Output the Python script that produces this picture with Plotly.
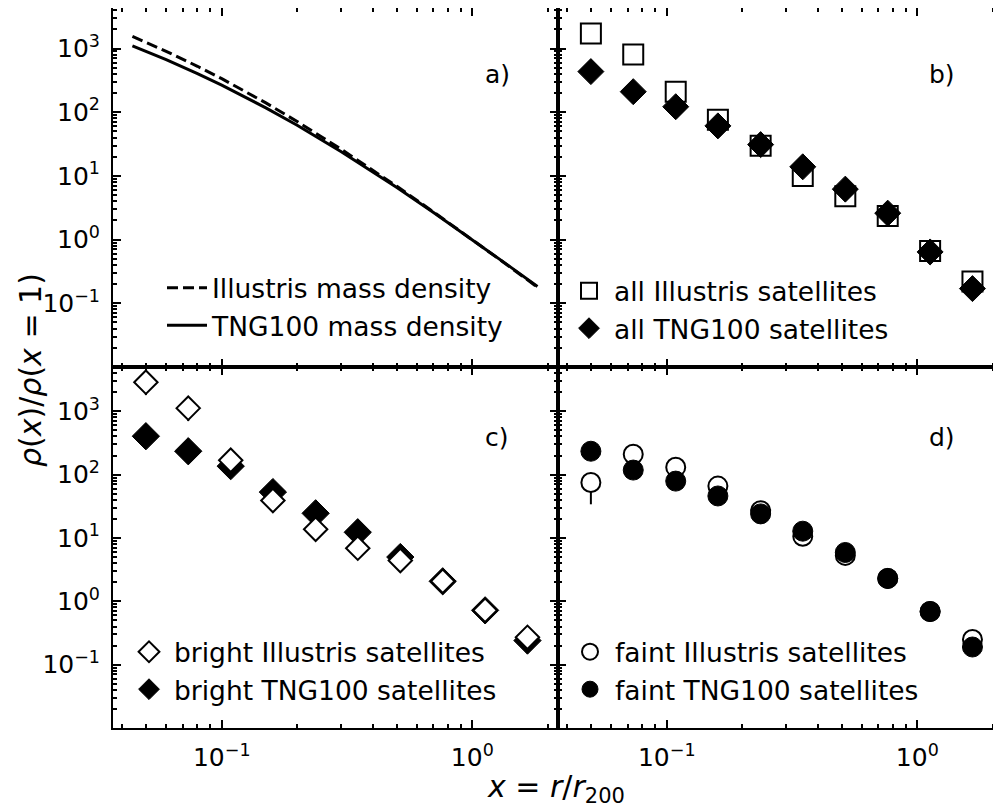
import plotly.graph_objects as go

# ---------------- data ----------------
# panel a: mass density profiles
x_prof = [0.044, 0.06, 0.08, 0.1, 0.15, 0.2, 0.3, 0.4, 0.5, 0.7, 1.0, 1.4, 1.82]
ill_mass = [1550, 904, 526, 336, 140, 71.5, 26.2, 12.4, 6.85, 2.72, 1.0, 0.382, 0.179]
tng_mass = [1103, 668, 404, 266, 117, 62.3, 24.0, 11.7, 6.56, 2.67, 1.0, 0.387, 0.183]

# radial bins of satellites
x_bins = [0.0498, 0.0735, 0.1086, 0.160, 0.237, 0.349, 0.516, 0.762, 1.125, 1.66]

# panel b: all satellites
all_ill = [1720, 805, 210, 76, 29.7, 10.0, 4.8, 2.35, 0.66, 0.22]
all_tng = [434, 210, 122, 61, 31, 13.9, 6.2, 2.6, 0.64, 0.17]

# panel c: bright satellites
bright_ill = [2880, 1120, 169, 39, 13.7, 6.9, 4.4, 2.07, 0.72, 0.27]
bright_ill_err = [1080, 420, 0, 0, 0, 0, 0, 0, 0, 0]
bright_tng = [404, 234, 136, 53, 24.5, 12.3, 5.0, 2.07, 0.72, 0.24]

# panel d: faint satellites
faint_ill = [75, 210, 131, 66, 27, 10.6, 5.3, 2.3, 0.69, 0.25]
faint_ill_err_hi = [30, 0, 0, 0, 0, 0, 0, 0, 0, 0]
faint_ill_err_lo = [41, 0, 0, 0, 0, 0, 0, 0, 0, 0]
faint_tng = [234, 118, 79, 46, 24, 12.8, 5.9, 2.3, 0.69, 0.19]

y_ticks = [0.1, 1, 10, 100, 1000]
y_ticktext = ["10<sup>\u22121</sup>", "10<sup>0</sup>", "10<sup>1</sup>", "10<sup>2</sup>", "10<sup>3</sup>"]
x_ticks = [0.1, 1]
x_ticktext = ["10<sup>\u22121</sup>", "10<sup>0</sup>"]

# ---------------- figure ----------------
FONT = "DejaVu Sans"
W, H = 1001, 810
PAGE_OFF = 8                     # default body margin of the html page
ML, MR, MT, MB = 105, 6, 0, 90   # plot area -> page x 113..1003, y 8..728
PLOT_W = W - ML - MR
PLOT_H = H - MT - MB
BOT_PX = H - MB + PAGE_OFF
MID_PX = 367


def px2x(px):
    return (px - ML - PAGE_OFF) / PLOT_W


def px2y(py):
    return (BOT_PX - py) / PLOT_H


SPLIT = px2y(MID_PX)

fig = go.Figure()
BLACK = "black"

# panel a
fig.add_trace(go.Scatter(x=x_prof, y=ill_mass, mode="lines", name="Illustris mass density",
                         line=dict(color=BLACK, width=3, dash="11px,5px"),
                         xaxis="x", yaxis="y", legend="legend", legendgroup="a1"))
fig.add_trace(go.Scatter(x=x_prof, y=tng_mass, mode="lines", name="TNG100 mass density",
                         line=dict(color=BLACK, width=3),
                         xaxis="x", yaxis="y", legend="legend", legendgroup="a2"))

# panel b
fig.add_trace(go.Scatter(x=x_bins, y=all_ill, mode="markers", name="all Illustris satellites",
                         marker=dict(symbol="square", size=20, color="white",
                                     line=dict(color=BLACK, width=2)),
                         xaxis="x2", yaxis="y2", legend="legend2", legendgroup="b1", legendrank=1))
fig.add_trace(go.Scatter(x=x_bins, y=all_tng, mode="markers", name="all TNG100 satellites",
                         marker=dict(symbol="diamond", size=20, color=BLACK,
                                     line=dict(color=BLACK, width=1)),
                         xaxis="x2", yaxis="y2", legend="legend2", legendgroup="b2", legendrank=2))

# panel c
fig.add_trace(go.Scatter(x=x_bins, y=bright_tng, mode="markers", name="bright TNG100 satellites",
                         marker=dict(symbol="diamond", size=21, color=BLACK,
                                     line=dict(color=BLACK, width=1)),
                         xaxis="x3", yaxis="y3", legend="legend3", legendgroup="c2", legendrank=2))
fig.add_trace(go.Scatter(x=x_bins, y=bright_ill, mode="markers", name="bright Illustris satellites",
                         error_y=dict(type="data", array=bright_ill_err, color=BLACK, thickness=2, width=0),
                         marker=dict(symbol="diamond", size=18, color="white",
                                     line=dict(color=BLACK, width=2)),
                         xaxis="x3", yaxis="y3", legend="legend3", legendgroup="c1", legendrank=1))

# panel d
fig.add_trace(go.Scatter(x=x_bins, y=faint_ill, mode="markers", name="faint Illustris satellites",
                         error_y=dict(type="data", array=faint_ill_err_hi, arrayminus=faint_ill_err_lo,
                                      color=BLACK, thickness=2, width=0),
                         marker=dict(symbol="circle", size=19, color="white",
                                     line=dict(color=BLACK, width=2)),
                         xaxis="x4", yaxis="y4", legend="legend4", legendgroup="d1", legendrank=1))
fig.add_trace(go.Scatter(x=x_bins, y=faint_tng, mode="markers", name="faint TNG100 satellites",
                         marker=dict(symbol="circle", size=20, color=BLACK,
                                     line=dict(color=BLACK, width=1)),
                         xaxis="x4", yaxis="y4", legend="legend4", legendgroup="d2", legendrank=2))

XR = [-1.434, 0.342]
YR_BOT = [-2.0, 3.699]
YR_TOP = [-2.0, 3.636]   # top of the figure is clipped a little in the reference

minor_x = [m * 10 ** e for e in (-2, -1, 0) for m in range(2, 10)]
minor_y = [m * 10 ** e for e in (-2, -1, 0, 1, 2, 3) for m in range(2, 10)]


def xaxis(domain, anchor, labels):
    return dict(type="log", range=XR, domain=domain, anchor=anchor, automargin=False,
                showline=True, linecolor=BLACK, linewidth=2, mirror="allticks",
                ticks="inside", ticklen=8, tickwidth=2, tickcolor=BLACK,
                tickmode="array", tickvals=x_ticks, ticktext=x_ticktext,
                showticklabels=labels, showgrid=False, zeroline=False,
                ticklabelstandoff=6,
                tickfont=dict(family=FONT, size=25, color=BLACK),
                minor=dict(ticks="inside", ticklen=4, tickwidth=1.5, tickcolor=BLACK,
                           tickmode="array", tickvals=minor_x, showgrid=False))


def yaxis(domain, anchor, labels, rng):
    return dict(type="log", range=rng, domain=domain, anchor=anchor, automargin=False,
                showline=True, linecolor=BLACK, linewidth=2, mirror="allticks",
                ticks="inside", ticklen=8, tickwidth=2, tickcolor=BLACK,
                tickmode="array", tickvals=y_ticks, ticktext=y_ticktext,
                showticklabels=labels, showgrid=False, zeroline=False,
                ticklabelstandoff=6,
                tickfont=dict(family=FONT, size=25, color=BLACK),
                minor=dict(ticks="inside", ticklen=4, tickwidth=1.5, tickcolor=BLACK,
                           tickmode="array", tickvals=minor_y, showgrid=False))


def leg(xpx, ypx, gap):
    return dict(x=px2x(xpx), y=px2y(ypx),
                xanchor="left", yanchor="top", bgcolor="rgba(0,0,0,0)",
                font=dict(family=FONT, size=26.5, color=BLACK),
                tracegroupgap=gap, itemwidth=40, traceorder="normal")


fig.update_layout(
    width=W, height=H,
    margin=dict(l=ML, r=MR, t=MT, b=MB, autoexpand=False),
    paper_bgcolor="white", plot_bgcolor="white",
    font=dict(family=FONT, size=25, color=BLACK),
    xaxis=xaxis([0, 0.5], "y", False),
    yaxis=yaxis([SPLIT, 1], "x", True, YR_TOP),
    xaxis2=xaxis([0.5, 1], "y2", False),
    yaxis2=yaxis([SPLIT, 1], "x2", False, YR_TOP),
    xaxis3=xaxis([0, 0.5], "y3", True),
    yaxis3=yaxis([0, SPLIT], "x3", True, YR_BOT),
    xaxis4=xaxis([0.5, 1], "y4", True),
    yaxis4=yaxis([0, SPLIT], "x4", False, YR_BOT),
    legend=leg(162, 264, 11),
    legend2=leg(564, 267, 9),
    legend3=leg(124, 628, 11),
    legend4=leg(565, 628, 11),
    showlegend=True,
)

panel_labels = [("a)", 497, 74), ("b)", 942, 74), ("c)", 497, 437), ("d)", 942, 437)]
for txt, lx, ly in panel_labels:
    fig.add_annotation(text=txt, xref="paper", yref="paper",
                       x=px2x(lx), y=px2y(ly), showarrow=False, xanchor="center", yanchor="middle",
                       font=dict(family=FONT, size=25, color=BLACK))

fig.add_annotation(text="<i>x</i> = <i>r</i>/<i>r</i><sub>200</sub>", xref="paper", yref="paper",
                   x=px2x(556), y=px2y(788), showarrow=False,
                   xanchor="center", yanchor="middle",
                   font=dict(family=FONT, size=30, color=BLACK))
fig.add_annotation(text="<i>\u03c1</i>(<i>x</i>)/<i>\u03c1</i>(<i>x</i> = 1)", xref="paper", yref="paper",
                   x=px2x(30), y=px2y(370), showarrow=False,
                   textangle=-90, xanchor="center", yanchor="middle",
                   font=dict(family=FONT, size=30, color=BLACK))

fig.write_html("out.html")
